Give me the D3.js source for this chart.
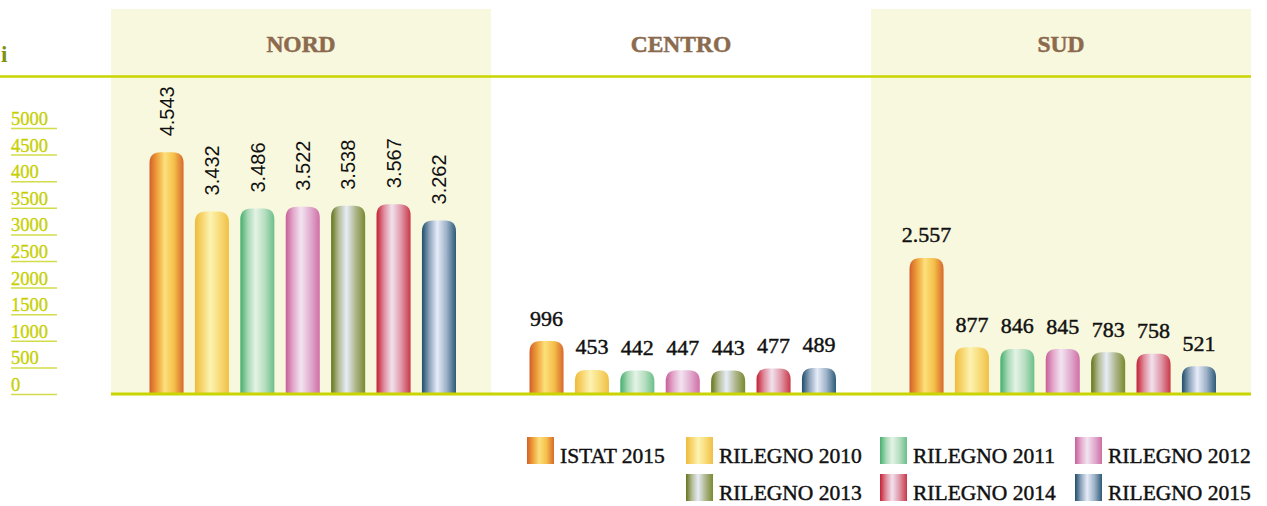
<!DOCTYPE html>
<html>
<head>
<meta charset="utf-8">
<script src="https://cdn.jsdelivr.net/npm/d3@7"></script>
<style>
  html, body { margin: 0; padding: 0; background: #fff; }
  svg { display: block; }
</style>
</head>
<body>
<svg id="chart"></svg>
<script>
// Dati del grafico
const regions = ['NORD', 'CENTRO', 'SUD'];
const series = ['ISTAT 2015', 'RILEGNO 2010', 'RILEGNO 2011', 'RILEGNO 2012', 'RILEGNO 2013', 'RILEGNO 2014', 'RILEGNO 2015'];
const nordValues = [4543, 3432, 3486, 3522, 3538, 3567, 3262];
const centroValues = [996, 453, 442, 447, 443, 477, 489];
const sudValues = [2557, 877, 846, 845, 783, 758, 521];
const tickValues = [0, 500, 1000, 1500, 2000, 2500, 3000, 3500, 4000, 4500, 5000];
const tickLabels = ['0', '500', '1000', '1500', '2000', '2500', '3000', '3500', '400', '4500', '5000'];

const valuesByRegion = { NORD: nordValues, CENTRO: centroValues, SUD: sudValues };

// gradienti: bordi scuri, centro chiaro
const gradients = [
  ['#d35f2a', '#eea03a', '#fde07c', '#f5bf4a', '#d8692c'],
  ['#efbb3c', '#f7d670', '#fcf3b2', '#f8dc7a', '#efc046'],
  ['#46ae6e', '#a6d8b4', '#e4f3e6', '#b6dec0', '#6abf8a'],
  ['#c75e98', '#e4a8cc', '#f2e4f0', '#e2aed0', '#d06ea6'],
  ['#64741a', '#b4bc96', '#e6ecf6', '#aeb68c', '#7a8a30'],
  ['#c32033', '#e08c9c', '#f1e2ee', '#e098a8', '#c83848'],
  ['#1f4d6b', '#8ea4bc', '#e6ecf8', '#9eb2c8', '#2d5b79']
];
const gradOffsets = [0, 0.22, 0.45, 0.72, 1];

const W = 1267, H = 506;
const lineColor = '#c9d400';
const baseY = 394;

const itFormat = d3.formatLocale({ decimal: ',', thousands: '.', grouping: [3], currency: ['€', ''] }).format(',');

const svg = d3.select('#chart').attr('width', W).attr('height', H);

const defs = svg.append('defs');
series.forEach((s, i) => {
  const g = defs.append('linearGradient')
    .attr('id', 'grad' + i)
    .attr('x1', '0%').attr('x2', '100%')
    .attr('y1', '0%').attr('y2', '0%');
  gradients[i].forEach((c, k) => {
    g.append('stop').attr('offset', gradOffsets[k]).attr('stop-color', c);
  });
});

// Scale
const x0 = d3.scaleBand().domain(regions).range([111, 1251]);
const x1 = d3.scaleBand().domain(series).range([38.5, 345]).paddingInner(0.25);
const y = d3.scaleLinear().domain([0, 5000]).range([baseY, 128]);

// Sfondi dei pannelli
svg.append('g')
  .selectAll('rect')
  .data(regions.filter((r, i) => i !== 1))
  .enter()
  .append('rect')
  .attr('x', d => x0(d))
  .attr('y', 9)
  .attr('width', x0.bandwidth())
  .attr('height', baseY - 9)
  .attr('fill', '#f8f8de');

// Titoli regioni
svg.append('g')
  .selectAll('text')
  .data(regions)
  .enter()
  .append('text')
  .attr('x', d => x0(d) + x0.bandwidth() / 2)
  .attr('y', 52)
  .attr('text-anchor', 'middle')
  .attr('font-family', 'Liberation Serif, serif')
  .attr('font-weight', 'bold')
  .attr('font-size', '23.5px')
  .attr('fill', '#8b6a4e')
  .attr('stroke', '#8b6a4e')
  .attr('stroke-width', 0.5)
  .text(d => d);

// Linee orizzontali
svg.append('line')
  .attr('x1', 0).attr('x2', x0.range()[1])
  .attr('y1', 76.5).attr('y2', 76.5)
  .attr('stroke', lineColor).attr('stroke-width', 2.5);

svg.append('text')
  .attr('x', 1).attr('y', 62)
  .attr('font-family', 'Liberation Serif, serif')
  .attr('font-weight', 'bold')
  .attr('font-size', '23px')
  .attr('fill', '#7f9012')
  .text('i');

// Asse Y (etichette sottolineate)
const ticks = svg.append('g').attr('class', 'y-ticks');
tickValues.forEach((v, i) => {
  ticks.append('text')
    .attr('x', 11)
    .attr('y', y(v) - 3)
    .attr('font-family', 'Liberation Serif, serif')
    .attr('font-size', '18.5px')
    .attr('fill', '#c6cf00')
    .attr('stroke', '#c6cf00')
    .attr('stroke-width', 0.3)
    .text(tickLabels[i]);
  ticks.append('line')
    .attr('x1', 11).attr('x2', 57)
    .attr('y1', y(v) + 0.5).attr('y2', y(v) + 0.5)
    .attr('stroke', '#d3dc4a')
    .attr('stroke-width', 1.5);
});

// Barra con angoli superiori arrotondati
function barPath(x, top, w, bottom, r) {
  r = Math.min(r, w / 2, bottom - top);
  return `M${x},${bottom}V${top + r}Q${x},${top} ${x + r},${top}H${x + w - r}Q${x + w},${top} ${x + w},${top + r}V${bottom}Z`;
}

regions.forEach(region => {
  const g = svg.append('g').attr('transform', `translate(${x0(region)},0)`);
  const data = valuesByRegion[region].map((v, i) => ({ series: series[i], idx: i, value: v }));

  g.selectAll('path')
    .data(data)
    .enter()
    .append('path')
    .attr('d', d => barPath(x1(d.series), y(d.value), x1.bandwidth(), baseY, 11))
    .attr('fill', d => `url(#grad${d.idx})`);

  if (region === 'NORD') {
    g.selectAll('text.val')
      .data(data)
      .enter()
      .append('text')
      .attr('class', 'val')
      .attr('transform', d => `translate(${x1(d.series) + x1.bandwidth() / 2},${y(d.value) - 16}) rotate(-90)`)
      .attr('dy', '0.36em')
      .attr('font-family', 'Liberation Sans, Arial, sans-serif')
      .attr('font-size', '20px')
      .attr('fill', '#111')
      .text(d => itFormat(d.value));
  } else {
    g.selectAll('text.val')
      .data(data)
      .enter()
      .append('text')
      .attr('class', 'val')
      .attr('x', d => x1(d.series) + x1.bandwidth() / 2)
      .attr('y', d => y(d.value) - 15.5)
      .attr('text-anchor', 'middle')
      .attr('font-family', 'Liberation Serif, serif')
      .attr('font-size', '22px')
      .attr('fill', '#111')
      .attr('stroke', '#111')
      .attr('stroke-width', 0.45)
      .text(d => itFormat(d.value));
  }
});

// Linea di base
svg.append('line')
  .attr('x1', x0.range()[0]).attr('x2', x0.range()[1])
  .attr('y1', baseY).attr('y2', baseY)
  .attr('stroke', lineColor).attr('stroke-width', 3);

// Legenda
const legendCols = [527, 686, 880, 1075];
const legendPos = i => i === 0
  ? { x: legendCols[0], y: 437 }
  : { x: legendCols[(i - 1) % 3 + 1], y: 437 + Math.floor((i - 1) / 3) * 37 };

const legend = svg.append('g').attr('class', 'legend');
series.forEach((s, i) => {
  const p = legendPos(i);
  legend.append('rect')
    .attr('x', p.x).attr('y', p.y)
    .attr('width', 27).attr('height', 27)
    .attr('fill', `url(#grad${i})`);
  legend.append('text')
    .attr('x', p.x + 33)
    .attr('y', p.y + 26)
    .attr('font-family', 'Liberation Serif, serif')
    .attr('font-size', '21.5px')
    .attr('fill', '#111')
    .attr('stroke', '#111')
    .attr('stroke-width', 0.45)
    .text(s);
});
</script>
</body>
</html>
